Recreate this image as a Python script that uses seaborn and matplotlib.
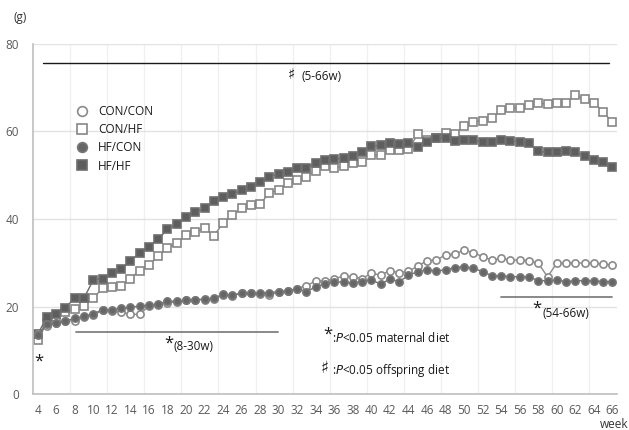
import matplotlib
matplotlib.use("Agg")
import matplotlib.pyplot as plt
from matplotlib.lines import Line2D
import seaborn as sns
import pandas as pd
import numpy as np

weeks = list(range(4, 67))

con_con = [13.8, 15.6, 16.2, 16.6, 16.8, 17.5, 18.1, 19.1, 19.0, 18.8, 18.2, 18.2, 20.1, 20.3, 20.9, 21.0,
           21.4, 21.5, 21.6, 21.8, 22.6, 22.5, 23.0, 23.0, 22.9, 22.6, 23.3, 23.6, 24.1, 24.8, 25.8, 25.9,
           26.3, 27.0, 26.8, 26.4, 27.6, 27.2, 28.2, 27.7, 28.1, 29.2, 30.5, 30.6, 31.8, 32.0, 32.9, 32.3,
           31.4, 30.6, 31.0, 30.6, 30.6, 30.5, 29.9, 26.8, 29.9, 29.9, 30.0, 29.9, 29.9, 29.7, 29.5]
hf_con = [13.5, 16.0, 16.2, 16.7, 17.3, 17.8, 18.3, 19.3, 19.2, 19.6, 19.8, 20.1, 20.3, 20.6, 21.2, 21.2,
          21.5, 21.5, 21.7, 21.9, 22.8, 22.6, 23.1, 23.0, 23.0, 23.2, 23.4, 23.6, 24.1, 23.4, 24.5, 25.2,
          25.7, 25.5, 25.4, 25.7, 26.1, 25.1, 26.3, 25.7, 27.1, 28.0, 28.4, 28.1, 28.4, 28.9, 29.1, 28.7,
          28.0, 27.0, 27.0, 26.8, 26.8, 26.8, 25.9, 25.9, 26.1, 25.7, 25.9, 25.9, 25.9, 25.7, 25.7]
con_hf = [12.3, 16.3, 17.7, 18.8, 19.4, 20.1, 21.9, 24.2, 24.5, 24.7, 26.4, 28.2, 29.5, 31.5, 33.4, 34.5,
          36.3, 37.0, 37.9, 36.2, 39.0, 40.9, 42.4, 43.2, 43.4, 46.0, 46.6, 48.3, 48.8, 49.7, 51.0, 52.0,
          51.7, 52.1, 52.7, 53.1, 54.6, 54.6, 55.8, 55.8, 55.9, 59.4, 58.1, 58.6, 59.6, 59.4, 61.3, 62.2,
          62.5, 63.0, 64.9, 65.3, 65.3, 66.1, 66.4, 66.3, 66.6, 66.4, 68.3, 67.4, 66.6, 64.5, 62.1]
hf_hf = [13.7, 17.5, 18.2, 19.7, 22.0, 21.9, 26.1, 26.4, 27.6, 28.5, 30.4, 32.2, 33.7, 35.4, 37.6, 38.9,
         40.5, 41.7, 42.4, 44.0, 45.1, 45.7, 46.6, 47.2, 48.5, 49.7, 50.3, 50.7, 51.7, 51.7, 52.9, 53.5,
         53.6, 54.0, 54.5, 55.2, 56.7, 56.8, 57.3, 57.1, 57.3, 56.4, 57.7, 58.4, 58.4, 57.9, 58.1, 58.1,
         57.5, 57.7, 58.1, 57.9, 57.7, 57.3, 55.5, 55.2, 55.4, 55.5, 55.4, 54.3, 53.5, 53.1, 51.8]

group_names = ["CON/CON", "CON/HF", "HF/CON", "HF/HF"]
xtick_labels = [str(w) for w in range(4, 67, 2)]
ytick_values = [0, 20, 40, 60, 80]

df = pd.DataFrame({"week": weeks, "CON/CON": con_con, "CON/HF": con_hf,
                   "HF/CON": hf_con, "HF/HF": hf_hf})

sns.set_theme(style="white")
plt.rcParams['font.family'] = ['Open Sans', 'DejaVu Sans']

fig = plt.figure(figsize=(6.29, 4.30), dpi=100)
ax = fig.add_axes([0.0525, 0.0837, 0.9285, 0.814])

styles = {
    "CON/CON": dict(marker="o", mfc="white", mec="#8a8a8a", color="#8a8a8a"),
    "HF/CON": dict(marker="o", mfc="#666666", mec="#767676", color="#707070"),
    "CON/HF": dict(marker="s", mfc="white", mec="#868686", color="#868686"),
    "HF/HF": dict(marker="s", mfc="#5e5e5e", mec="#6e6e6e", color="#6a6a6a"),
}
order = ["CON/HF", "HF/HF", "CON/CON", "HF/CON"]
for g in order:
    st = styles[g]
    sns.lineplot(data=df, x="week", y=g, ax=ax, color=st["color"], linewidth=1.0,
                 marker=st["marker"], markersize=5.2, markerfacecolor=st["mfc"],
                 markeredgecolor=st["mec"], markeredgewidth=1.2, legend=False)

ax.set_xlim(3.5, 66.5)
ax.set_ylim(0, 80)
ax.set_xticks([int(t) for t in xtick_labels])
ax.set_xticklabels(xtick_labels)
ax.set_yticks(ytick_values)
ax.set_xticks(np.arange(7.5, 66, 4), minor=True)
ax.grid(False)
ax.yaxis.grid(True, color="#e2e2e2", linewidth=1.0)
ax.xaxis.grid(True, which="minor", color="#f0f0f0", linewidth=1.0)
ax.set_axisbelow(True)
ax.tick_params(axis="both", which="both", length=0, labelsize=8.5, colors="#595959")
ax.tick_params(axis="x", pad=7)
ax.tick_params(axis="y", pad=10)
ax.set_xlabel("")
ax.set_ylabel("")
for s in ["top", "right"]:
    ax.spines[s].set_visible(False)
for s in ["left", "bottom"]:
    ax.spines[s].set_color("#bfbfbf")
    ax.spines[s].set_linewidth(1.2)

# significance lines
ax.plot([4.6, 65.6], [75.7, 75.7], color="#1a1a1a", linewidth=1.0)
ax.plot([8.1, 29.9], [14.2, 14.2], color="#808080", linewidth=1.3)
ax.plot([54.0, 66.0], [22.2, 22.2], color="#808080", linewidth=1.3)

txt = "#1a1a1a"
ax.text(31.4, 72.8, "\u266f", fontsize=11, fontweight="bold", color=txt, ha="center", va="center")
ax.text(32.5, 72.6, "(5-66w)", fontsize=8.5, color=txt, ha="left", va="center")
ax.text(4.1, 7.3, "*", fontsize=12, color=txt, ha="center", va="center")
ax.text(18.1, 11.4, "*", fontsize=12, color=txt, ha="center", va="center")
ax.text(18.6, 10.8, "(8-30w)", fontsize=8.5, color=txt, ha="left", va="center")
ax.text(57.9, 19.5, "*", fontsize=12, color=txt, ha="center", va="center")
ax.text(58.5, 18.4, "(54-66w)", fontsize=8.5, color=txt, ha="left", va="center")
ax.text(35.3, 13.5, "*", fontsize=12, color=txt, ha="center", va="center")
ax.text(35.7, 12.7, ":$\\it{P}$<0.05 maternal diet", fontsize=8.5, color=txt, ha="left", va="center")
ax.text(34.9, 5.9, "\u266f", fontsize=12, fontweight="bold", color=txt, ha="center", va="center")
ax.text(35.8, 5.4, ":$\\it{P}$<0.05 offspring diet", fontsize=8.5, color=txt, ha="left", va="center")

fig.text(14 / 629, 1 - 18 / 430, "(g)", fontsize=8.5, color="#333333", ha="left", va="center")
fig.text(600 / 629, 1 - 424 / 430, "week", fontsize=8.5, color="#333333", ha="left", va="center")

handles = []
for g in group_names:
    st = styles[g]
    handles.append(Line2D([], [], linestyle="none", marker=st["marker"], markersize=7,
                          markerfacecolor=st["mfc"], markeredgecolor=st["mec"], markeredgewidth=1.2))
leg = ax.legend(handles, group_names, loc="upper left", bbox_to_anchor=(0.055, 0.857),
                frameon=False, fontsize=8.5, labelspacing=0.45, handletextpad=0.9,
                handlelength=1.0)
for t in leg.get_texts():
    t.set_color("#1a1a1a")

fig.savefig("out.png", dpi=100)
